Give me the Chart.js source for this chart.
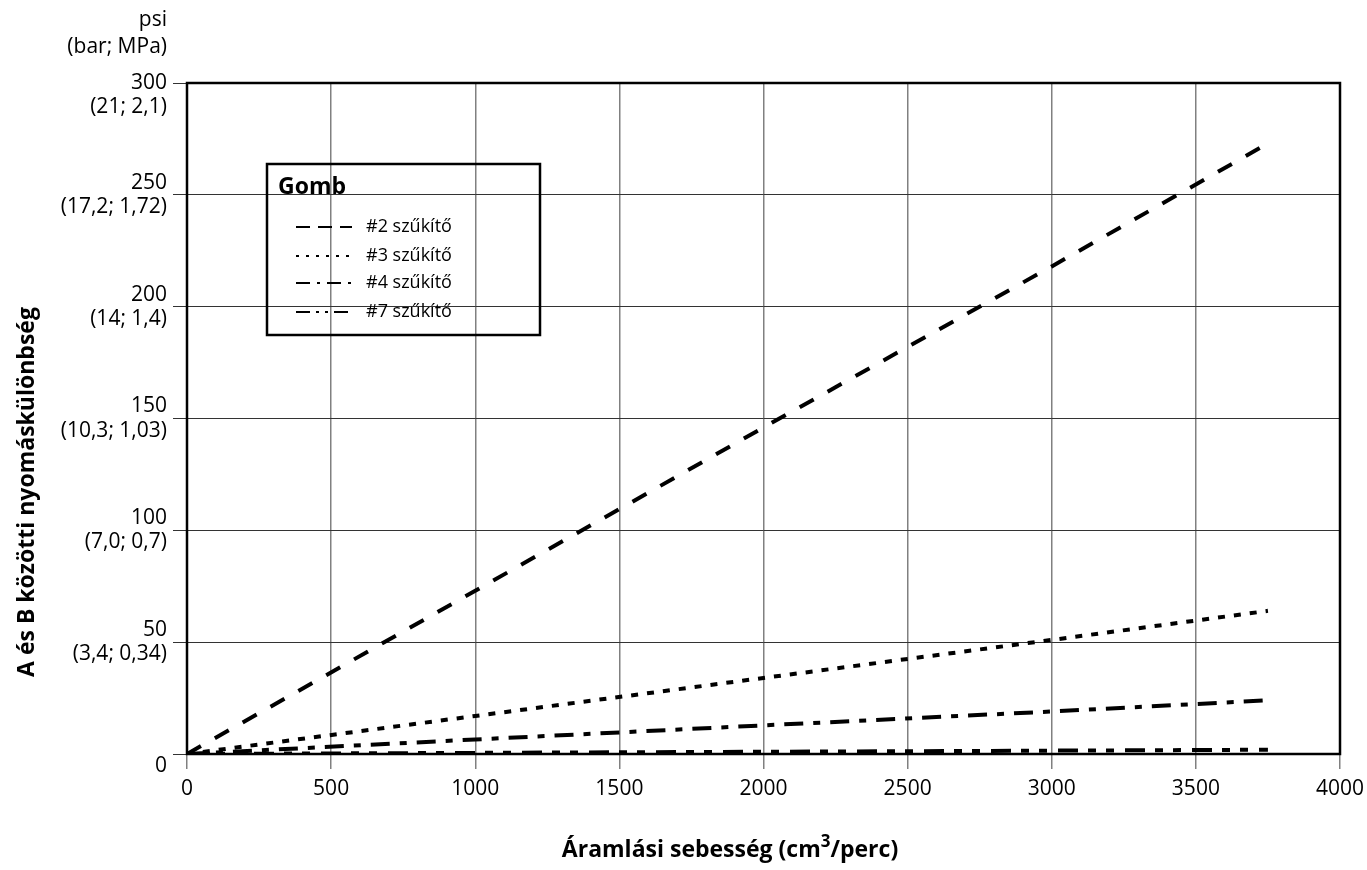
<!DOCTYPE html>
<html>
<head>
<meta charset="utf-8">
<script src="https://cdn.jsdelivr.net/npm/chart.js"></script>
<style>
  html, body { margin: 0; padding: 0; background: #fff; }
  #wrap { width: 1367px; height: 870px; }
</style>
</head>
<body>
<div id="wrap"><canvas id="myChart" width="1367" height="870"></canvas></div>
<script>
// flow rate (cm3/perc) and pressure difference (psi)
const flowX = [0, 1000, 2000, 3000, 3750];
const restrictor2 = [0, 73, 146, 218, 273];
const restrictor3 = [0, 17, 34, 51, 64];
const restrictor4 = [0, 6.5, 12.8, 19, 24];
const restrictor7 = [0, 0.5, 1, 1.5, 1.9];
const seriesNames = ['#2 szűkítő', '#3 szűkítő', '#4 szűkítő', '#7 szűkítő'];

const xTicks = [0, 500, 1000, 1500, 2000, 2500, 3000, 3500, 4000];
const yTicks = [0, 50, 100, 150, 200, 250, 300];
const yTickSub = {
  0: '', 50: '(3,4; 0,34)', 100: '(7,0; 0,7)', 150: '(10,3; 1,03)',
  200: '(14; 1,4)', 250: '(17,2; 1,72)', 300: '(21; 2,1)'
};

const FONT = "'Open Sans', 'Noto Sans', sans-serif";

const toPoints = (vals) => vals.map((v, i) => ({ x: flowX[i], y: v }));

// dash patterns for the plot and smaller ones for the key
const dashes = [[16, 16], [7, 9], [19, 10, 7, 10], [20, 10, 8, 10, 8, 11]];
const keyDashes = [[14, 8], [3, 7], [14, 7, 3, 7], [14, 6, 3, 6, 3, 6]];

// frame round the plot area, and the extra texts
const framePlugin = {
  id: 'frame',
  afterDraw(chart) {
    const { ctx, chartArea: a } = chart;
    ctx.save();
    ctx.strokeStyle = '#000';
    ctx.lineWidth = 2.5;
    ctx.strokeRect(a.left, a.top, a.right - a.left, a.bottom - a.top);

    // unit heading over the y axis
    ctx.fillStyle = '#000';
    ctx.font = '21px ' + FONT;
    ctx.textAlign = 'right';
    ctx.textBaseline = 'middle';
    ctx.fillText('psi', 167, 20);
    ctx.fillText('(bar; MPa)', 167, 47);

    // y axis title
    ctx.save();
    ctx.translate(27, 492);
    ctx.rotate(-Math.PI / 2);
    ctx.font = 'bold 23px ' + FONT;
    ctx.textAlign = 'center';
    ctx.fillText('A és B közötti nyomáskülönbség', 0, 0);
    ctx.restore();

    // x axis title with superscript 3
    const p1 = 'Áramlási sebesség (cm', sup = '3', p2 = '/perc)';
    ctx.textBaseline = 'alphabetic';
    ctx.textAlign = 'left';
    ctx.font = 'bold 23px ' + FONT;
    const w1 = ctx.measureText(p1).width, w3 = ctx.measureText(p2).width;
    ctx.font = 'bold 17px ' + FONT;
    const w2 = ctx.measureText(sup).width;
    let x = 730 - (w1 + w2 + w3) / 2;
    const by = 857;
    ctx.font = 'bold 23px ' + FONT;
    ctx.fillText(p1, x, by);
    x += w1;
    ctx.font = 'bold 17px ' + FONT;
    ctx.fillText(sup, x, by - 10);
    x += w2;
    ctx.font = 'bold 23px ' + FONT;
    ctx.fillText(p2, x, by);

    // key box
    ctx.lineWidth = 2.5;
    ctx.strokeRect(267, 164, 273, 171);
    ctx.font = 'bold 23px ' + FONT;
    ctx.fillText('Gomb', 278, 194);
    const rowsY = [227, 256, 283, 312];
    chart.data.datasets.forEach((ds, i) => {
      ctx.beginPath();
      ctx.setLineDash(keyDashes[i]);
      ctx.lineWidth = 2;
      ctx.moveTo(296, rowsY[i]);
      ctx.lineTo(352, rowsY[i]);
      ctx.stroke();
      ctx.setLineDash([]);
      ctx.font = '18px ' + FONT;
      ctx.textBaseline = 'middle';
      ctx.fillText(ds.label, 366, rowsY[i]);
    });
    ctx.restore();
  }
};

const ctx = document.getElementById('myChart').getContext('2d');
const allSeries = [restrictor2, restrictor3, restrictor4, restrictor7];

const chart = new Chart(ctx, {
  type: 'line',
  data: {
    datasets: allSeries.map((vals, i) => ({
      label: seriesNames[i],
      data: toPoints(vals),
      borderColor: '#000',
      borderWidth: 4,
      borderDash: dashes[i],
      borderCapStyle: 'butt',
      pointRadius: 0,
      fill: false,
      tension: 0
    }))
  },
  options: {
    responsive: false,
    animation: false,
    layout: { padding: { top: 83, right: 27, left: 0, bottom: 0 } },
    plugins: {
      legend: { display: false },
      tooltip: { enabled: false }
    },
    scales: {
      x: {
        type: 'linear',
        min: 0,
        max: 4000,
        afterBuildTicks: (scale) => { scale.ticks = xTicks.map(v => ({ value: v })); },
        afterFit: (scale) => {
          scale.height = 116;
          scale.paddingLeft = 0;
          scale.paddingRight = 0;
        },
        border: { display: false },
        grid: { color: '#808080', lineWidth: 1.5, tickLength: 15 },
        ticks: {
          color: '#000',
          padding: 7,
          maxRotation: 0,
          font: { family: FONT, size: 21 },
          callback: (v) => String(v)
        }
      },
      y: {
        min: 0,
        max: 300,
        afterBuildTicks: (scale) => { scale.ticks = yTicks.map(v => ({ value: v })); },
        afterFit: (scale) => {
          scale.width = 187;
          scale.paddingTop = 0;
          scale.paddingBottom = 0;
        },
        border: { display: false },
        grid: { color: '#333', lineWidth: 1, tickLength: 14 },
        ticks: {
          color: '#000',
          padding: 6,
          font: { family: FONT, size: 21, lineHeight: 1.15 },
          callback: (v) => {
            if (v === 0) return ['', '0'];
            if (v === 300) return ['', '300', yTickSub[300]];
            return [String(v), yTickSub[v]];
          }
        }
      }
    }
  },
  plugins: [framePlugin]
});
</script>
</body>
</html>
